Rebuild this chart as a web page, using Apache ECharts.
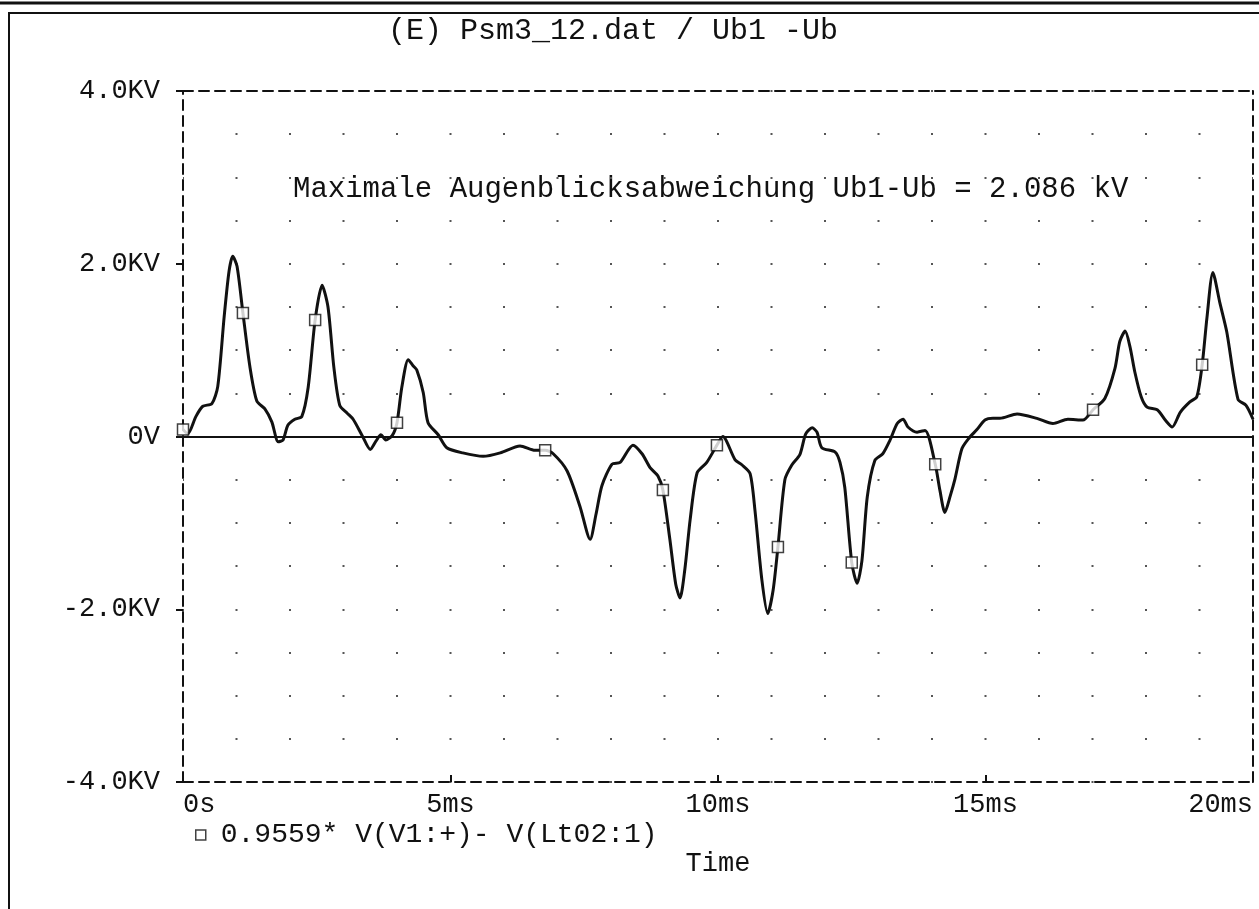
<!DOCTYPE html>
<html>
<head>
<meta charset="utf-8">
<title>Psm3_12 Ub1 - Ub</title>
<script src="https://cdn.jsdelivr.net/npm/echarts@6/dist/echarts.min.js"></script>
<style>
  html, body { margin: 0; padding: 0; background: #fff; }
  #chart { width: 1259px; height: 909px; }
</style>
</head>
<body>
<div id="chart"></div>
<script>
// Time axis (ms) and the deviation 0.9559*V(V1:+) - V(Lt02:1) in kV
const timeMs = [
  0, 0.09, 0.24, 0.37, 0.54, 0.65, 0.77, 0.86, 0.93, 1.01,
  1.12, 1.25, 1.38, 1.53, 1.66, 1.78, 1.87, 1.96, 2.09, 2.22,
  2.34, 2.47, 2.60, 2.71, 2.82, 2.93, 3.07, 3.18, 3.35, 3.50,
  3.61, 3.70, 3.79, 3.91, 4.00, 4.09, 4.21, 4.30, 4.37, 4.49,
  4.58, 4.77, 4.93, 5.23, 5.61, 5.93, 6.30, 6.58, 6.77, 6.92,
  7.18, 7.42, 7.61, 7.72, 7.83, 8.02, 8.17, 8.41, 8.58, 8.73,
  8.88, 8.97, 9.10, 9.21, 9.29, 9.38, 9.48, 9.61, 9.79, 9.98,
  10.09, 10.32, 10.45, 10.60, 10.69, 10.82, 10.93, 11.03, 11.12, 11.25,
  11.38, 11.53, 11.64, 11.76, 11.85, 11.94, 12.19, 12.28, 12.37, 12.50,
  12.60, 12.69, 12.79, 12.93, 13.08, 13.21, 13.35, 13.46, 13.55, 13.72,
  13.87, 14.06, 14.15, 14.24, 14.34, 14.43, 14.56, 14.69, 14.84, 14.99,
  15.14, 15.27, 15.59, 15.96, 16.26, 16.54, 16.82, 17.01, 17.23, 17.42,
  17.51, 17.61, 17.70, 17.79, 17.91, 18.02, 18.21, 18.36, 18.49, 18.64,
  18.82, 18.95, 19.05, 19.14, 19.25, 19.38, 19.51, 19.72, 19.87, 20.0
];
const deviationKV = [
  0.08, 0.03, 0.23, 0.35, 0.38, 0.58, 1.39, 1.91, 2.086, 1.97,
  1.43, 0.81, 0.41, 0.32, 0.17, -0.06, -0.04, 0.13, 0.20, 0.23,
  0.57, 1.35, 1.75, 1.50, 0.80, 0.36, 0.27, 0.20, 0.01, -0.15,
  -0.05, 0.02, -0.04, 0.01, 0.16, 0.57, 0.89, 0.82, 0.77, 0.51,
  0.16, 0.02, -0.13, -0.19, -0.23, -0.19, -0.11, -0.16, -0.16, -0.20,
  -0.40, -0.81, -1.19, -0.90, -0.57, -0.32, -0.30, -0.10, -0.20, -0.36,
  -0.46, -0.62, -1.19, -1.71, -1.87, -1.54, -0.96, -0.42, -0.30, -0.10,
  0.00, -0.27, -0.33, -0.43, -0.85, -1.66, -2.05, -1.78, -1.28, -0.50,
  -0.33, -0.21, 0.03, 0.10, 0.05, -0.13, -0.18, -0.30, -0.59, -1.46,
  -1.70, -1.44, -0.70, -0.28, -0.20, -0.05, 0.15, 0.20, 0.11, 0.05,
  0.07, -0.32, -0.63, -0.88, -0.69, -0.49, -0.14, -0.02, 0.08, 0.19,
  0.21, 0.21, 0.26, 0.21, 0.15, 0.20, 0.19, 0.31, 0.44, 0.79,
  1.10, 1.22, 1.04, 0.75, 0.46, 0.34, 0.31, 0.19, 0.11, 0.28,
  0.40, 0.46, 0.83, 1.38, 1.90, 1.55, 1.21, 0.43, 0.36, 0.20
];
// Sample times carrying the square trace markers
const markerTimesMs = [0, 1.12, 2.47, 4.00, 6.77, 8.97, 9.98, 11.12, 12.50, 14.06, 17.01, 19.05];

// Tick labels
const xTickValues = [0, 5, 10, 15, 20];
const xTickLabels = ['0s', '5ms', '10ms', '15ms', '20ms'];
const yTickValues = [-4, -2, 0, 2, 4];
const yTickLabels = ['-4.0KV', '-2.0KV', '0V', '2.0KV', '4.0KV'];

const titleText = '(E) Psm3_12.dat / Ub1 -Ub';
const traceName = '0.9559* V(V1:+)- V(Lt02:1)';
const xAxisName = 'Time';

const FONT = '"Liberation Mono", "DejaVu Sans Mono", monospace';
const INK = '#111';

const lineData = timeMs.map((t, i) => [t, deviationKV[i]]);
const markerData = markerTimesMs.map(t => {
  const i = timeMs.indexOf(t);
  return [t, deviationKV[i]];
});
const maxDev = deviationKV.reduce((m, v) => Math.abs(v) > Math.abs(m) ? v : m, 0);
const noteText = 'Maximale Augenblicksabweichung Ub1-Ub = ' + Math.abs(maxDev).toFixed(3) + ' kV';

// Dashed plot frame and dotted background grid (1 ms x 0.5 kV)
const dashedFrame = { show: true, onZero: false, lineStyle: { color: INK, width: 2, type: [10, 6] } };
const dotGrid = { show: true, lineStyle: { color: '#555', width: 2, type: [2, 51.5], dashOffset: 1 } };

const chart = echarts.init(document.getElementById('chart'), null, { renderer: 'canvas' });
chart.setOption({
  animation: false,
  backgroundColor: '#fff',
  textStyle: { fontFamily: FONT, color: INK },
  title: {
    text: titleText,
    left: 383,
    top: 11,
    textStyle: { fontFamily: FONT, fontSize: 30, fontWeight: 'normal', color: INK }
  },
  grid: { left: 183, right: 6, top: 91, bottom: 127, containLabel: false },
  legend: {
    data: [{ name: traceName, icon: 'rect' }],
    left: 190,
    top: 816,
    itemWidth: 10,
    itemHeight: 10,
    itemGap: 10,
    selectedMode: false,
    itemStyle: { color: '#fff', borderColor: INK, borderWidth: 1.5 },
    textStyle: { fontFamily: FONT, fontSize: 28, color: INK, padding: [0, 0, 0, 10] }
  },
  xAxis: [
    {
      type: 'value', min: 0, max: 20, interval: 5, position: 'bottom',
      name: xAxisName, nameLocation: 'middle', nameGap: 68,
      nameTextStyle: { fontFamily: FONT, fontSize: 27, color: INK },
      axisLine: dashedFrame,
      axisTick: { show: true, inside: true, length: 7, lineStyle: { color: INK, width: 2 } },
      axisLabel: {
        fontFamily: FONT, fontSize: 27, color: INK, margin: 9,
        alignMinLabel: 'left', alignMaxLabel: 'right',
        formatter: v => { const i = xTickValues.indexOf(v); return i >= 0 ? xTickLabels[i] : ''; }
      },
      splitLine: { show: false }
    },
    {
      type: 'value', min: 0, max: 20, interval: 5, position: 'top',
      axisLine: dashedFrame, axisTick: { show: false }, axisLabel: { show: false },
      splitLine: { show: false }
    }
  ],
  yAxis: [
    {
      type: 'value', min: -4, max: 4, interval: 2, position: 'left',
      axisLine: dashedFrame,
      axisTick: { show: true, inside: false, length: 7, lineStyle: { color: INK, width: 2 } },
      axisLabel: {
        fontFamily: FONT, fontSize: 27, color: INK, margin: 23,
        padding: [0, 0, 8, 0],
        formatter: v => { const i = yTickValues.indexOf(v); return i >= 0 ? yTickLabels[i] : ''; }
      },
      splitLine: dotGrid,
      minorTick: { show: false, splitNumber: 4 },
      minorSplitLine: dotGrid
    },
    {
      type: 'value', min: -4, max: 4, interval: 2, position: 'right',
      axisLine: dashedFrame, axisTick: { show: false }, axisLabel: { show: false },
      splitLine: { show: false }
    }
  ],
  graphic: [
    { type: 'line', shape: { x1: 0, y1: 3, x2: 1259, y2: 3 }, style: { stroke: INK, lineWidth: 3 } },
    { type: 'line', shape: { x1: 8, y1: 13, x2: 1259, y2: 13 }, style: { stroke: INK, lineWidth: 2 } },
    { type: 'line', shape: { x1: 9, y1: 12, x2: 9, y2: 909 }, style: { stroke: INK, lineWidth: 2 } },
    {
      type: 'text', left: 293, top: 175,
      style: { text: noteText, font: 'normal 29px ' + FONT, fill: INK }
    }
  ],
  series: [
    {
      name: 'trace-line',
      type: 'line',
      xAxisIndex: 0, yAxisIndex: 0,
      data: lineData,
      showSymbol: false,
      smooth: 0.25,
      lineStyle: { color: INK, width: 3 },
      z: 3,
      markLine: {
        silent: true,
        symbol: ['none', 'none'],
        label: { show: false },
        lineStyle: { type: 'solid', color: INK, width: 2 },
        data: [{ yAxis: 0 }]
      }
    },
    {
      name: traceName,
      type: 'scatter',
      xAxisIndex: 0, yAxisIndex: 0,
      data: markerData,
      symbol: 'rect',
      symbolSize: 11,
      itemStyle: { color: '#fff', borderColor: INK, borderWidth: 1.5 },
      z: 4
    }
  ]
});
</script>
</body>
</html>
